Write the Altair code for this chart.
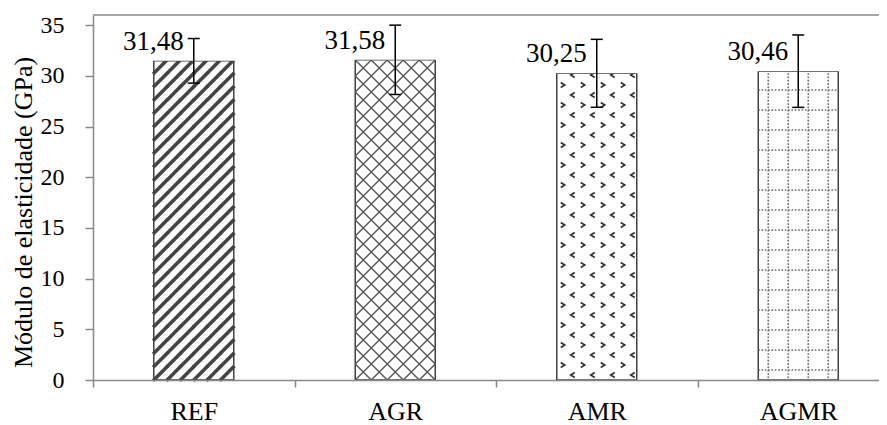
import altair as alt
import pandas as pd

categories = ["REF", "AGR", "AMR", "AGMR"]
values = [31.48, 31.58, 30.25, 30.46]
errors = [2.20, 3.42, 3.35, 3.57]
y_ticks = [0, 5, 10, 15, 20, 25, 30, 35]
y_title = "Módulo de elasticidade (GPa)"

FONT = "Liberation Serif"
W, H = 786, 365
PXX = 201.5
YMAX = 36
PXY = H / YMAX
XMAX = W / PXX
BARW = 80
HALF = BARW / 2 / PXX
CAP = 6 / PXX
GRAY = "#898989"

df = pd.DataFrame({"cat": categories, "idx": list(range(len(categories))),
                   "value": values, "err": errors})
df["label"] = [f"{v:.2f}".replace(".", ",") for v in values]

xs = alt.Scale(domain=[0, XMAX], nice=False, zero=False)
ys = alt.Scale(domain=[0, YMAX], nice=False, zero=False)

cat_js = "[" + ",".join(f"'{c}'" for c in categories) + "]"
x_vals = [i * 0.5 for i in range(2 * len(categories))]

x_axis = alt.Axis(
    values=x_vals,
    labelExpr=f"datum.value % 1 == 0 ? '' : {cat_js}[floor(datum.value)]",
    tickOpacity={"condition": {"test": "datum.value % 1 != 0", "value": 0}, "value": 1},
    title=None, grid=False, domainColor=GRAY, domainWidth=1.5, tickColor=GRAY,
    tickWidth=1.5, tickSize=7, labelFont=FONT, labelFontSize=26, labelColor="black",
    labelPadding=11, labelFlush=False, labelOverlap=False, labelBound=False,
    labelBaseline="top", zindex=1,
)
y_axis = alt.Axis(
    values=y_ticks, title=y_title, titleFont=FONT, titleFontSize=26,
    titleFontWeight="normal", titleColor="black", titleAngle=270, titleX=-62,
    titleY=197, titleAlign="center", titleBaseline="alphabetic",
    grid=False, domainColor=GRAY, domainWidth=1.5, tickColor=GRAY, tickWidth=1.5,
    tickSize=8, labelFont=FONT, labelFontSize=24, labelColor="black",
    labelPadding=21, labelFlush=False, labelOverlap=False, zindex=1,
)


def X(f):
    return alt.X(f, scale=xs, axis=x_axis)


def Y(f):
    return alt.Y(f, scale=ys, axis=y_axis)


base = alt.Chart(df).transform_calculate(
    xc="datum.idx + 0.5",
    xl=f"datum.idx + 0.5 - {HALF}",
    xr=f"datum.idx + 0.5 + {HALF}",
    zero="0",
)


def tiles(cat, S, path, color, sw, dash=None, cap="butt"):
    ncols = int(round(BARW / S))
    mk = dict(shape=path, size=S * S, filled=False, stroke=color,
              strokeWidth=sw, opacity=1, strokeCap=cap)
    if dash:
        mk["strokeDash"] = dash
    return (
        base.transform_filter(alt.datum.cat == cat)
        .transform_calculate(
            c=f"sequence(0, {ncols})",
            r=f"sequence(0, ceil(datum.value * {PXY} / {S}))",
        )
        .transform_flatten(["c"])
        .transform_flatten(["r"])
        .transform_calculate(
            tx=f"datum.xl + (datum.c + 0.5) * {S / PXX}",
            ty=f"(datum.r + 0.5) * {S / PXY}",
        )
        .mark_point(**mk)
        .encode(x=X("tx:Q"), y=Y("ty:Q"))
    )


t_ref = tiles("REF", 80 / 6, "M-1.1,1.1L1.1,-1.1", "#444444", 3.6)
t_agr = tiles("AGR", 16, "M-1,1L1,-1M-1,-1L1,1", "#555555", 1.4)
t_amr = tiles(
    "AMR", 20,
    "M-0.6,-0.75L-0.2,-0.5L-0.6,-0.25M0.8,0.25L0.4,0.5L0.8,0.75",
    "#333333", 1.7,
)
t_agmr = tiles("AGMR", 20, "M-1,0L1,0M0,-1L0,1", "#6a6a6a", 1.6, dash=[1.6, 1.7])

cover = base.transform_calculate(
    top="datum.value + 2.3",
    xl2=f"datum.xl - {4 / PXX}",
    xr2=f"datum.xr + {4 / PXX}",
).mark_rect(color="white", strokeWidth=0).encode(
    x=X("xl2:Q"), x2="xr2:Q", y=Y("value:Q"), y2="top:Q",
)

outline = base.mark_rect(
    fill="white", fillOpacity=0, stroke="#404040", strokeWidth=1.5
).encode(
    x=X("xl:Q"), x2="xr:Q", y=Y("zero:Q"), y2="value:Q",
)

top_border = alt.Chart(pd.DataFrame({"k": [0]})).mark_rule(
    color=GRAY, strokeWidth=1.5
).encode(
    x=alt.value(0), x2=alt.value(W),
    y=alt.YDatum(YMAX, type="quantitative", scale=ys, axis=y_axis),
)

err_base = base.transform_calculate(
    lo="datum.value - datum.err", hi="datum.value + datum.err"
)
err_rule = err_base.mark_rule(color="black", strokeWidth=1.5).encode(
    x=X("xc:Q"), y=Y("lo:Q"), y2="hi:Q",
)
caps = err_base.transform_fold(["lo", "hi"], as_=["end", "ey"]).transform_calculate(
    cl=f"datum.xc - {CAP}", cr=f"datum.xc + {CAP}"
).mark_rule(color="black", strokeWidth=1.5).encode(
    x=X("cl:Q"), x2="cr:Q", y=Y("ey:Q"),
)

text = base.mark_text(
    align="right", baseline="alphabetic", dx=-10, dy=-11,
    font=FONT, fontSize=27, color="black",
).encode(
    x=X("xc:Q"), y=Y("value:Q"), text="label:N",
)

chart = alt.layer(
    outline, t_ref, t_agr, t_amr, t_agmr, cover, top_border, err_rule, caps, text
).properties(
    width=W, height=H,
    padding={"left": 85, "top": 7, "right": 0, "bottom": 45},
    autosize=alt.AutoSizeParams(type="none"),
    background="white",
).configure_view(stroke=None)

chart.save("out.html", embed_options={"renderer": "svg", "actions": False})
